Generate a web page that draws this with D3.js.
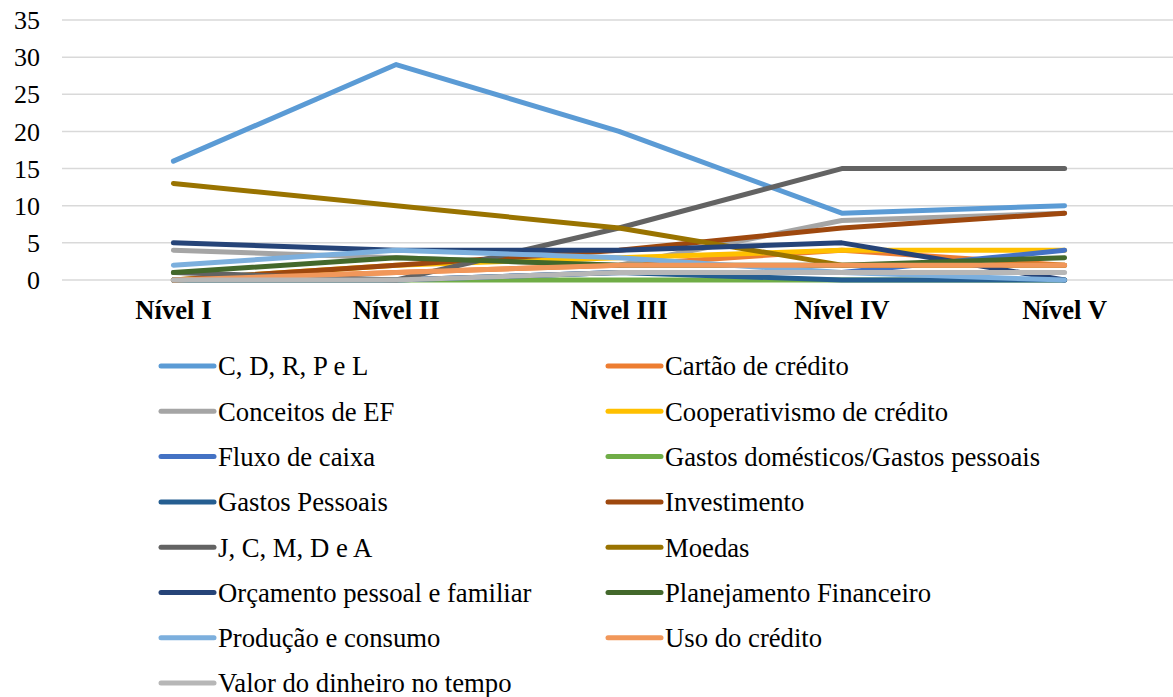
<!DOCTYPE html>
<html>
<head>
<meta charset="utf-8">
<script src="https://cdn.jsdelivr.net/npm/d3@7"></script>
<style>
  body { margin: 0; background: #fff; }
</style>
</head>
<body>
<svg id="chart" width="1173" height="697" font-family="'Liberation Serif', 'Times New Roman', 'DejaVu Serif', serif"></svg>
<script>
const levels = ['Nível I', 'Nível II', 'Nível III', 'Nível IV', 'Nível V']
const yTicks = [0, 5, 10, 15, 20, 25, 30, 35]

const names = [
  'C, D, R, P e L', 'Cartão de crédito', 'Conceitos de EF', 'Cooperativismo de crédito',
  'Fluxo de caixa', 'Gastos domésticos/Gastos pessoais', 'Gastos Pessoais', 'Investimento',
  'J, C, M, D e A', 'Moedas', 'Orçamento pessoal e familiar', 'Planejamento Financeiro',
  'Produção e consumo', 'Uso do crédito', 'Valor do dinheiro no tempo'
]
const colors = [
  '#5B9BD5', '#ED7D31', '#A5A5A5', '#FFC000', '#4472C4', '#70AD47', '#255E91', '#9E480E',
  '#636363', '#997300', '#264478', '#43682B', '#7CAFDD', '#F1975A', '#B7B7B7'
]
const values = [
  [16, 29, 20, 9, 10],
  [0, 1, 2, 4, 2],
  [4, 3, 2, 8, 9],
  [0, 2, 3, 4, 4],
  [0, 0, 1, 1, 4],
  [0, 0, 0, 0, 0],
  [0, 0, 1, 0, 0],
  [0, 2, 4, 7, 9],
  [1, 0, 7, 15, 15],
  [13, 10, 7, 2, 2],
  [5, 4, 4, 5, 0],
  [1, 3, 2, 2, 3],
  [2, 4, 3, 1, 0],
  [0, 1, 2, 2, 2],
  [0, 0, 1, 1, 1]
]

const svg = d3.select('#chart')

const x = d3.scalePoint().domain(levels).range([62, 1176]).padding(0.5)
const y = d3.scaleLinear().domain([0, 35]).range([280, 20])

// gridlines
svg.append('g')
  .selectAll('line')
  .data(yTicks)
  .join('line')
  .attr('x1', 62).attr('x2', 1173)
  .attr('y1', d => y(d)).attr('y2', d => y(d))
  .attr('stroke', '#D9D9D9').attr('stroke-width', 1.5)

// y labels
svg.append('g')
  .selectAll('text')
  .data(yTicks)
  .join('text')
  .attr('x', 40).attr('y', d => y(d))
  .attr('dy', '0.35em')
  .attr('text-anchor', 'end')
  .attr('font-size', 26)
  .text(d => d)

// x labels
svg.append('g')
  .selectAll('text')
  .data(levels)
  .join('text')
  .attr('x', d => x(d)).attr('y', 319)
  .attr('text-anchor', 'middle')
  .attr('font-size', 26.7).attr('font-weight', 'bold')
  .text(d => d)

const line = d3.line()
  .x((d, i) => x(levels[i]))
  .y(d => y(d))

svg.append('g')
  .selectAll('path')
  .data(values)
  .join('path')
  .attr('d', d => line(d))
  .attr('fill', 'none')
  .attr('stroke', (d, i) => colors[i])
  .attr('stroke-width', 5)
  .attr('stroke-linecap', 'round')
  .attr('stroke-linejoin', 'round')

// legend, two columns
const legend = svg.append('g')
  .selectAll('g')
  .data(names)
  .join('g')
  .attr('transform', (d, i) => `translate(${i % 2 ? 608 : 161},${366 + Math.floor(i / 2) * 45.3})`)

legend.append('line')
  .attr('x1', 0).attr('x2', 53)
  .attr('stroke', (d, i) => colors[i])
  .attr('stroke-width', 5)
  .attr('stroke-linecap', 'round')

legend.append('text')
  .attr('x', 57).attr('dy', '0.35em')
  .attr('font-size', 26.7)
  .text(d => d)
</script>
</body>
</html>
